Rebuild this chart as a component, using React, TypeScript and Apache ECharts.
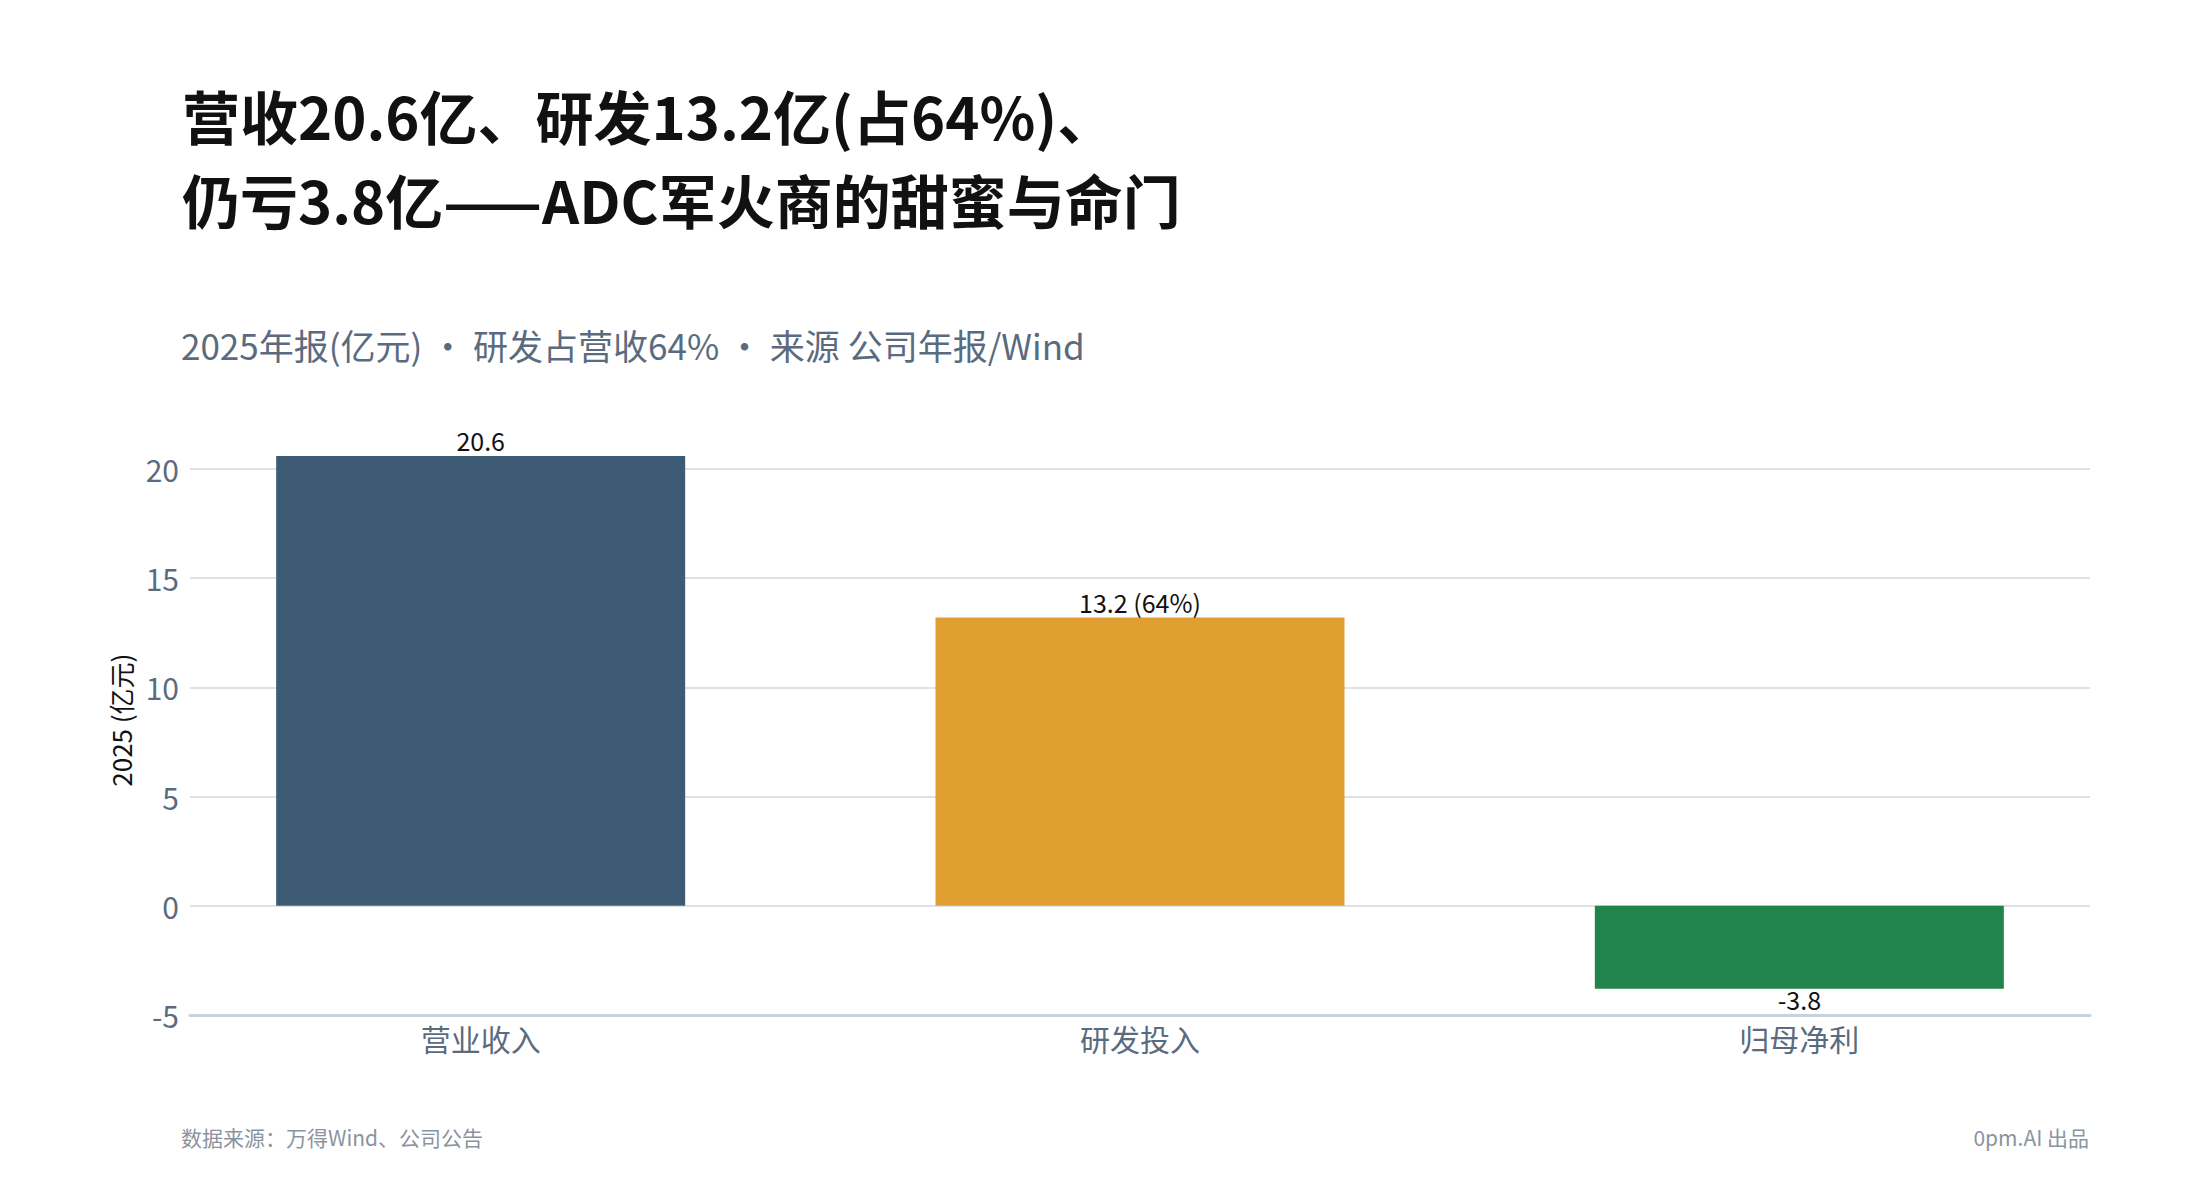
import React, { useEffect, useRef } from "react";
import * as echarts from "echarts";

const categories = ["营业收入", "研发投入", "归母净利"];
const values = [20.6, 13.2, -3.8];
const barLabels = ["20.6", "13.2 (64%)", "-3.8"];
const barColors = ["#3e5b75", "#dfa031", "#21844b"];
const yTicksMin = -5;
const yTicksMax = 20;
const yTickStep = 5;

const titleLine1 = "营收20.6亿、研发13.2亿(占64%)、";
const titleLine2 = "仍亏3.8亿——ADC军火商的甜蜜与命门";
const subtitle = "2025年报(亿元) · 研发占营收64% · 来源 公司年报/Wind";
const yAxisName = "2025 (亿元)";
const footLeft = "数据来源：万得Wind、公司公告";
const footRight = "0pm.AI 出品";

const FONT = '"Noto Sans CJK SC", "Noto Sans", sans-serif';
const SLATE = "#5b6b7f";

export default function App() {
  const ref = useRef<HTMLDivElement>(null);
  useEffect(() => {
    document.body.style.margin = "0";
    const chart = echarts.init(ref.current!, null, { renderer: "svg" });
    const option: any = {
      animation: false,
      backgroundColor: "#ffffff",
      textStyle: { fontFamily: FONT },
      title: [
        {
          text: titleLine1 + "\n" + titleLine2,
          left: 182,
          top: 73,
          padding: 0,
          textStyle: { fontFamily: FONT, fontSize: 58, fontWeight: "bold", color: "#111111", lineHeight: 84 },
        },
        {
          text: subtitle,
          left: 181,
          top: 324,
          padding: 0,
          textStyle: { fontFamily: FONT, fontSize: 35, fontWeight: "normal", color: SLATE, lineHeight: 40 },
        },
        {
          text: footLeft,
          left: 181,
          top: 1124,
          padding: 0,
          textStyle: { fontFamily: FONT, fontSize: 21, fontWeight: "normal", color: "#8a94a0", lineHeight: 26 },
        },
        {
          text: footRight,
          right: 111,
          top: 1124,
          padding: 0,
          textStyle: { fontFamily: FONT, fontSize: 21, fontWeight: "normal", color: "#8a94a0", lineHeight: 26 },
        },
      ],
      grid: [
        { left: 190, right: 110, top: 469, bottom: 185 },
        { left: 151, right: 71, top: 425.3, bottom: 185 },
      ],
      xAxis: [
        {
          gridIndex: 0,
          type: "value",
          min: 0,
          max: 1,
          axisLabel: { show: false },
          axisTick: { show: false },
          splitLine: { show: false },
          axisLine: { show: true, onZero: false, lineStyle: { color: "#c9d1da", width: 3 } },
        },
        {
          gridIndex: 1,
          type: "category",
          data: categories,
          axisLine: { show: false },
          axisTick: { show: false },
          axisLabel: { fontFamily: FONT, fontSize: 30, color: SLATE, margin: 8 },
        },
      ],
      yAxis: [
        {
          gridIndex: 0,
          type: "value",
          min: yTicksMin,
          max: yTicksMax,
          interval: yTickStep,
          axisLine: { show: false },
          axisTick: { show: false },
          axisLabel: { fontFamily: FONT, fontSize: 30, color: SLATE, margin: 11 },
          splitLine: { show: true, lineStyle: { color: "#dde2e8", width: 2 } },
        },
        {
          gridIndex: 1,
          type: "value",
          min: yTicksMin,
          max: 22,
          axisLine: { show: false },
          axisTick: { show: false },
          axisLabel: { show: false },
          splitLine: { show: false },
          name: yAxisName,
          nameLocation: "middle",
          nameGap: 18,
          nameTextStyle: { fontFamily: FONT, fontSize: 26, color: "#111111" },
        },
      ],
      series: [
        {
          type: "bar",
          xAxisIndex: 1,
          yAxisIndex: 1,
          barWidth: 409,
          data: values.map((v, i) => ({
            value: v,
            itemStyle: { color: barColors[i] },
            label: {
              show: true,
              position: v >= 0 ? "top" : "bottom",
              distance: v >= 0 ? 3 : -2,
              formatter: barLabels[i],
              fontFamily: FONT,
              fontSize: 25,
              color: "#111111",
            },
          })),
        },
      ],
    };
    chart.setOption(option);
    return () => chart.dispose();
  }, []);
  return <div ref={ref} style={{ width: 2200, height: 1200 }} />;
}
